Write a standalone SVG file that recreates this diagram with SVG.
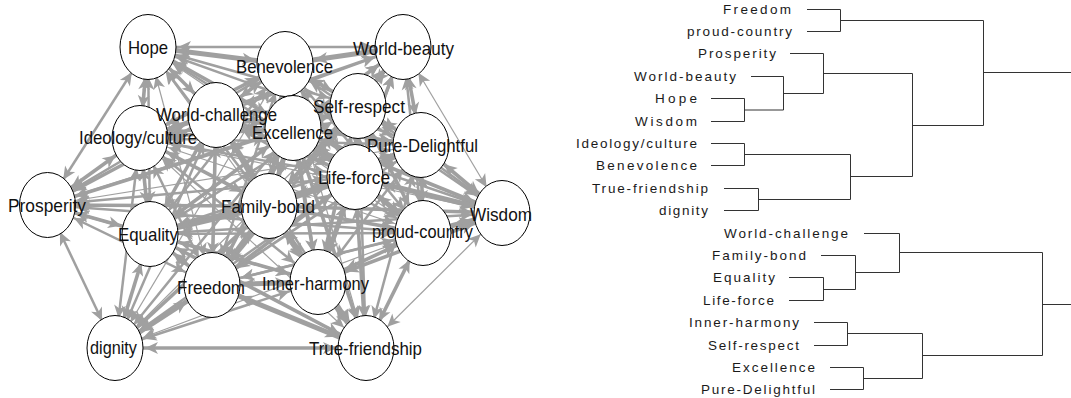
<svg xmlns="http://www.w3.org/2000/svg" width="1071" height="398" viewBox="0 0 1071 398">
<style>
.edges line{stroke:#a0a0a0;stroke-linecap:butt;marker-start:url(#ah);marker-end:url(#ah)}
.w1{stroke-width:1.2}.w2{stroke-width:2.5}.w3{stroke-width:3.6}.w4{stroke-width:5}
.node ellipse{fill:#fff;stroke:#000;stroke-width:1}
.node text{font-family:"Liberation Sans",Arial,sans-serif;font-size:19px;fill:#111;text-anchor:middle}
.leaf text{font-family:"Liberation Sans",Arial,sans-serif;font-size:13.5px;fill:#1a1a1a;text-anchor:end}
.tree path{fill:none;stroke:#333;stroke-width:1}
</style>
<defs>
<marker id="ah" markerUnits="userSpaceOnUse" viewBox="0 0 46 14" markerWidth="46" markerHeight="14" refX="46" refY="7" orient="auto-start-reverse" overflow="visible"><path d="M16,7 L3,1 L6.5,7 L3,13 Z" fill="#a0a0a0"/></marker>
</defs>
<rect width="1071" height="398" fill="#fff"/>
<g id="connectors" class="edges">
<line class="w3" x1="216" y1="115" x2="285" y2="64"/>
<line class="w2" x1="216" y1="115" x2="358" y2="106"/>
<line class="w3" x1="216" y1="115" x2="140" y2="138"/>
<line class="w4" x1="216" y1="115" x2="293" y2="128"/>
<line class="w2" x1="216" y1="115" x2="421" y2="145"/>
<line class="w3" x1="216" y1="115" x2="355" y2="177"/>
<line class="w4" x1="216" y1="115" x2="269" y2="206"/>
<line class="w3" x1="216" y1="115" x2="150" y2="234"/>
<line class="w2" x1="216" y1="115" x2="423" y2="233"/>
<line class="w3" x1="216" y1="115" x2="212" y2="285"/>
<line class="w2" x1="216" y1="115" x2="318" y2="282"/>
<line class="w3" x1="285" y1="64" x2="358" y2="106"/>
<line class="w3" x1="285" y1="64" x2="140" y2="138"/>
<line class="w4" x1="285" y1="64" x2="293" y2="128"/>
<line class="w2" x1="285" y1="64" x2="421" y2="145"/>
<line class="w3" x1="285" y1="64" x2="355" y2="177"/>
<line class="w3" x1="285" y1="64" x2="269" y2="206"/>
<line class="w2" x1="285" y1="64" x2="150" y2="234"/>
<line class="w2" x1="285" y1="64" x2="423" y2="233"/>
<line class="w2" x1="285" y1="64" x2="212" y2="285"/>
<line class="w2" x1="285" y1="64" x2="318" y2="282"/>
<line class="w2" x1="358" y1="106" x2="140" y2="138"/>
<line class="w4" x1="358" y1="106" x2="293" y2="128"/>
<line class="w3" x1="358" y1="106" x2="421" y2="145"/>
<line class="w4" x1="358" y1="106" x2="355" y2="177"/>
<line class="w3" x1="358" y1="106" x2="269" y2="206"/>
<line class="w2" x1="358" y1="106" x2="150" y2="234"/>
<line class="w3" x1="358" y1="106" x2="423" y2="233"/>
<line class="w2" x1="358" y1="106" x2="212" y2="285"/>
<line class="w3" x1="358" y1="106" x2="318" y2="282"/>
<line class="w3" x1="140" y1="138" x2="293" y2="128"/>
<line class="w2" x1="140" y1="138" x2="421" y2="145"/>
<line class="w2" x1="140" y1="138" x2="355" y2="177"/>
<line class="w3" x1="140" y1="138" x2="269" y2="206"/>
<line class="w3" x1="140" y1="138" x2="150" y2="234"/>
<line class="w1" x1="140" y1="138" x2="423" y2="233"/>
<line class="w2" x1="140" y1="138" x2="212" y2="285"/>
<line class="w2" x1="140" y1="138" x2="318" y2="282"/>
<line class="w3" x1="293" y1="128" x2="421" y2="145"/>
<line class="w4" x1="293" y1="128" x2="355" y2="177"/>
<line class="w4" x1="293" y1="128" x2="269" y2="206"/>
<line class="w3" x1="293" y1="128" x2="150" y2="234"/>
<line class="w3" x1="293" y1="128" x2="423" y2="233"/>
<line class="w3" x1="293" y1="128" x2="212" y2="285"/>
<line class="w3" x1="293" y1="128" x2="318" y2="282"/>
<line class="w3" x1="421" y1="145" x2="355" y2="177"/>
<line class="w2" x1="421" y1="145" x2="269" y2="206"/>
<line class="w2" x1="421" y1="145" x2="150" y2="234"/>
<line class="w3" x1="421" y1="145" x2="423" y2="233"/>
<line class="w2" x1="421" y1="145" x2="212" y2="285"/>
<line class="w2" x1="421" y1="145" x2="318" y2="282"/>
<line class="w4" x1="355" y1="177" x2="269" y2="206"/>
<line class="w3" x1="355" y1="177" x2="150" y2="234"/>
<line class="w4" x1="355" y1="177" x2="423" y2="233"/>
<line class="w3" x1="355" y1="177" x2="212" y2="285"/>
<line class="w4" x1="355" y1="177" x2="318" y2="282"/>
<line class="w4" x1="269" y1="206" x2="150" y2="234"/>
<line class="w3" x1="269" y1="206" x2="423" y2="233"/>
<line class="w4" x1="269" y1="206" x2="212" y2="285"/>
<line class="w4" x1="269" y1="206" x2="318" y2="282"/>
<line class="w2" x1="150" y1="234" x2="423" y2="233"/>
<line class="w3" x1="150" y1="234" x2="212" y2="285"/>
<line class="w3" x1="150" y1="234" x2="318" y2="282"/>
<line class="w2" x1="423" y1="233" x2="212" y2="285"/>
<line class="w3" x1="423" y1="233" x2="318" y2="282"/>
<line class="w4" x1="212" y1="285" x2="318" y2="282"/>
<line class="w3" x1="148" y1="47" x2="216" y2="115"/>
<line class="w4" x1="148" y1="47" x2="285" y2="64"/>
<line class="w2" x1="148" y1="47" x2="358" y2="106"/>
<line class="w3" x1="148" y1="47" x2="140" y2="138"/>
<line class="w3" x1="148" y1="47" x2="293" y2="128"/>
<line class="w2" x1="148" y1="47" x2="421" y2="145"/>
<line class="w2" x1="148" y1="47" x2="355" y2="177"/>
<line class="w2" x1="148" y1="47" x2="269" y2="206"/>
<line class="w2" x1="148" y1="47" x2="150" y2="234"/>
<line class="w1" x1="148" y1="47" x2="423" y2="233"/>
<line class="w1" x1="148" y1="47" x2="212" y2="285"/>
<line class="w1" x1="148" y1="47" x2="318" y2="282"/>
<line class="w2" x1="403" y1="47" x2="216" y2="115"/>
<line class="w4" x1="403" y1="47" x2="285" y2="64"/>
<line class="w3" x1="403" y1="47" x2="358" y2="106"/>
<line class="w2" x1="403" y1="47" x2="140" y2="138"/>
<line class="w3" x1="403" y1="47" x2="293" y2="128"/>
<line class="w3" x1="403" y1="47" x2="421" y2="145"/>
<line class="w3" x1="403" y1="47" x2="355" y2="177"/>
<line class="w2" x1="403" y1="47" x2="269" y2="206"/>
<line class="w1" x1="403" y1="47" x2="150" y2="234"/>
<line class="w2" x1="403" y1="47" x2="423" y2="233"/>
<line class="w1" x1="403" y1="47" x2="212" y2="285"/>
<line class="w2" x1="403" y1="47" x2="318" y2="282"/>
<line class="w2" x1="502" y1="213" x2="216" y2="115"/>
<line class="w2" x1="502" y1="213" x2="285" y2="64"/>
<line class="w2" x1="502" y1="213" x2="358" y2="106"/>
<line class="w1" x1="502" y1="213" x2="140" y2="138"/>
<line class="w3" x1="502" y1="213" x2="293" y2="128"/>
<line class="w3" x1="502" y1="213" x2="421" y2="145"/>
<line class="w4" x1="502" y1="213" x2="355" y2="177"/>
<line class="w3" x1="502" y1="213" x2="269" y2="206"/>
<line class="w2" x1="502" y1="213" x2="150" y2="234"/>
<line class="w4" x1="502" y1="213" x2="423" y2="233"/>
<line class="w2" x1="502" y1="213" x2="212" y2="285"/>
<line class="w3" x1="502" y1="213" x2="318" y2="282"/>
<line class="w2" x1="366" y1="348" x2="216" y2="115"/>
<line class="w1" x1="366" y1="348" x2="285" y2="64"/>
<line class="w2" x1="366" y1="348" x2="358" y2="106"/>
<line class="w1" x1="366" y1="348" x2="140" y2="138"/>
<line class="w3" x1="366" y1="348" x2="293" y2="128"/>
<line class="w2" x1="366" y1="348" x2="421" y2="145"/>
<line class="w3" x1="366" y1="348" x2="355" y2="177"/>
<line class="w3" x1="366" y1="348" x2="269" y2="206"/>
<line class="w3" x1="366" y1="348" x2="150" y2="234"/>
<line class="w3" x1="366" y1="348" x2="423" y2="233"/>
<line class="w4" x1="366" y1="348" x2="212" y2="285"/>
<line class="w4" x1="366" y1="348" x2="318" y2="282"/>
<line class="w2" x1="115" y1="348" x2="216" y2="115"/>
<line class="w1" x1="115" y1="348" x2="285" y2="64"/>
<line class="w1" x1="115" y1="348" x2="358" y2="106"/>
<line class="w2" x1="115" y1="348" x2="140" y2="138"/>
<line class="w2" x1="115" y1="348" x2="293" y2="128"/>
<line class="w1" x1="115" y1="348" x2="421" y2="145"/>
<line class="w2" x1="115" y1="348" x2="355" y2="177"/>
<line class="w3" x1="115" y1="348" x2="269" y2="206"/>
<line class="w3" x1="115" y1="348" x2="150" y2="234"/>
<line class="w1" x1="115" y1="348" x2="423" y2="233"/>
<line class="w4" x1="115" y1="348" x2="212" y2="285"/>
<line class="w2" x1="115" y1="348" x2="318" y2="282"/>
<line class="w3" x1="47" y1="205" x2="216" y2="115"/>
<line class="w2" x1="47" y1="205" x2="285" y2="64"/>
<line class="w2" x1="47" y1="205" x2="358" y2="106"/>
<line class="w3" x1="47" y1="205" x2="140" y2="138"/>
<line class="w3" x1="47" y1="205" x2="293" y2="128"/>
<line class="w1" x1="47" y1="205" x2="421" y2="145"/>
<line class="w2" x1="47" y1="205" x2="355" y2="177"/>
<line class="w3" x1="47" y1="205" x2="269" y2="206"/>
<line class="w3" x1="47" y1="205" x2="150" y2="234"/>
<line class="w2" x1="47" y1="205" x2="423" y2="233"/>
<line class="w2" x1="47" y1="205" x2="212" y2="285"/>
<line class="w2" x1="47" y1="205" x2="318" y2="282"/>
<line class="w2" x1="148" y1="47" x2="403" y2="47"/>
<line class="w1" x1="403" y1="47" x2="502" y2="213"/>
<line class="w1" x1="502" y1="213" x2="366" y2="348"/>
<line class="w3" x1="366" y1="348" x2="115" y2="348"/>
<line class="w2" x1="115" y1="348" x2="47" y2="205"/>
<line class="w2" x1="47" y1="205" x2="148" y2="47"/>
</g>
<g id="n-hope" class="node"><ellipse cx="148" cy="47" rx="28" ry="32.5"/><text x="148" y="54" textLength="40" lengthAdjust="spacingAndGlyphs">Hope</text></g>
<g id="n-benevolence" class="node"><ellipse cx="285" cy="64" rx="28" ry="32.5"/><text x="284.5" y="73" textLength="97" lengthAdjust="spacingAndGlyphs">Benevolence</text></g>
<g id="n-world-beauty" class="node"><ellipse cx="403" cy="47" rx="28" ry="32.5"/><text x="403.5" y="55" textLength="101" lengthAdjust="spacingAndGlyphs">World-beauty</text></g>
<g id="n-ideology-culture" class="node"><ellipse cx="140" cy="138" rx="28" ry="32.5"/><text x="138" y="144" textLength="118" lengthAdjust="spacingAndGlyphs">Ideology/culture</text></g>
<g id="n-excellence" class="node"><ellipse cx="293" cy="128" rx="28" ry="32.5"/><text x="292.5" y="139" textLength="81" lengthAdjust="spacingAndGlyphs">Excellence</text></g>
<g id="n-world-challenge" class="node"><ellipse cx="216" cy="115" rx="28" ry="32.5"/><text x="216.5" y="121" textLength="121" lengthAdjust="spacingAndGlyphs">World-challenge</text></g>
<g id="n-self-respect" class="node"><ellipse cx="358" cy="106" rx="28" ry="32.5"/><text x="359" y="113" textLength="92" lengthAdjust="spacingAndGlyphs">Self-respect</text></g>
<g id="n-life-force" class="node"><ellipse cx="355" cy="177" rx="28" ry="32.5"/><text x="354" y="184" textLength="72" lengthAdjust="spacingAndGlyphs">Life-force</text></g>
<g id="n-pure-delightful" class="node"><ellipse cx="421" cy="145" rx="28" ry="32.5"/><text x="422.5" y="152" textLength="111" lengthAdjust="spacingAndGlyphs">Pure-Delightful</text></g>
<g id="n-prosperity" class="node"><ellipse cx="47.5" cy="205" rx="28" ry="32.5"/><text x="47" y="211.5" textLength="78" lengthAdjust="spacingAndGlyphs">Prosperity</text></g>
<g id="n-family-bond" class="node"><ellipse cx="269" cy="206" rx="28" ry="32.5"/><text x="268" y="213" textLength="94" lengthAdjust="spacingAndGlyphs">Family-bond</text></g>
<g id="n-equality" class="node"><ellipse cx="150" cy="234" rx="28" ry="32.5"/><text x="148" y="240.5" textLength="60" lengthAdjust="spacingAndGlyphs">Equality</text></g>
<g id="n-proud-country" class="node"><ellipse cx="423" cy="233" rx="28" ry="32.5"/><text x="422.5" y="238" textLength="101" lengthAdjust="spacingAndGlyphs">proud-country</text></g>
<g id="n-wisdom" class="node"><ellipse cx="502" cy="213" rx="28" ry="32.5"/><text x="501" y="221" textLength="62" lengthAdjust="spacingAndGlyphs">Wisdom</text></g>
<g id="n-freedom" class="node"><ellipse cx="212" cy="285" rx="28" ry="32.5"/><text x="211" y="294" textLength="68" lengthAdjust="spacingAndGlyphs">Freedom</text></g>
<g id="n-inner-harmony" class="node"><ellipse cx="318" cy="282" rx="28" ry="32.5"/><text x="315.5" y="290" textLength="107" lengthAdjust="spacingAndGlyphs">Inner-harmony</text></g>
<g id="n-dignity" class="node"><ellipse cx="115" cy="348" rx="28" ry="32.5"/><text x="113.5" y="354" textLength="47" lengthAdjust="spacingAndGlyphs">dignity</text></g>
<g id="n-true-friendship" class="node"><ellipse cx="366" cy="348" rx="28" ry="32.5"/><text x="365.5" y="355" textLength="113" lengthAdjust="spacingAndGlyphs">True-friendship</text></g>
<g id="dendrogram-tree" class="tree">
<path d="M807,9.5H840.5M807,31.5H840.5M840.5,9.5V31.5M840.5,20.5H983.5"/>
<path d="M711,98.5H744.5M711,121.5H744.5M744.5,98.5V121.5M744.5,110H783.5"/>
<path d="M751,76.5H783.5M783.5,76.5V110M783.5,93.5H823.5"/>
<path d="M790,53.5H823.5M823.5,53.5V93.5M823.5,73.5H912.5"/>
<path d="M711,143.5H744.5M711,165.5H744.5M744.5,143.5V165.5M744.5,154.5H850.5"/>
<path d="M724,188.5H758.5M724,210.5H758.5M758.5,188.5V210.5M758.5,199.5H850.5"/>
<path d="M850.5,154.5V199.5M850.5,176.5H912.5"/>
<path d="M912.5,73.5V176.5M912.5,125.5H983.5"/>
<path d="M983.5,20.5V125.5M983.5,72.5H1071"/>
<path d="M789,277.5H823.5M789,300.5H823.5M823.5,277.5V300.5M823.5,289.5H855.5"/>
<path d="M821,255.5H855.5M855.5,255.5V289.5M855.5,272.5H899.5"/>
<path d="M864,233.5H899.5M899.5,233.5V272.5M899.5,252.5H1042.5"/>
<path d="M814,322.5H847.5M814,345.5H847.5M847.5,322.5V345.5M847.5,333.5H922.5"/>
<path d="M830,367.5H863.5M830,389.5H863.5M863.5,367.5V389.5M863.5,378.5H922.5"/>
<path d="M922.5,333.5V378.5M922.5,355.5H1042.5"/>
<path d="M1042.5,252.5V355.5M1042.5,304.5H1071"/>
</g>
<g id="dendrogram-labels" class="leaf">
<text x="791" y="13.5" textLength="68" lengthAdjust="spacing">Freedom</text>
<text x="792" y="35.5" textLength="105" lengthAdjust="spacing">proud-country</text>
<text x="776" y="57.5" textLength="78" lengthAdjust="spacing">Prosperity</text>
<text x="736" y="80.5" textLength="102" lengthAdjust="spacing">World-beauty</text>
<text x="697" y="102.5" textLength="42" lengthAdjust="spacing">Hope</text>
<text x="697" y="125.5" textLength="62" lengthAdjust="spacing">Wisdom</text>
<text x="697" y="147.5" textLength="121" lengthAdjust="spacing">Ideology/culture</text>
<text x="697" y="169.5" textLength="101" lengthAdjust="spacing">Benevolence</text>
<text x="708" y="192.5" textLength="116" lengthAdjust="spacing">True-friendship</text>
<text x="708" y="214.5" textLength="49" lengthAdjust="spacing">dignity</text>
<text x="848" y="237.5" textLength="124" lengthAdjust="spacing">World-challenge</text>
<text x="806" y="259.5" textLength="94" lengthAdjust="spacing">Family-bond</text>
<text x="775" y="281.5" textLength="62" lengthAdjust="spacing">Equality</text>
<text x="774" y="304.5" textLength="71" lengthAdjust="spacing">Life-force</text>
<text x="799" y="326.5" textLength="110" lengthAdjust="spacing">Inner-harmony</text>
<text x="799" y="349.5" textLength="91" lengthAdjust="spacing">Self-respect</text>
<text x="815" y="371.5" textLength="83" lengthAdjust="spacing">Excellence</text>
<text x="815" y="393.5" textLength="114" lengthAdjust="spacing">Pure-Delightful</text>
</g>
</svg>
